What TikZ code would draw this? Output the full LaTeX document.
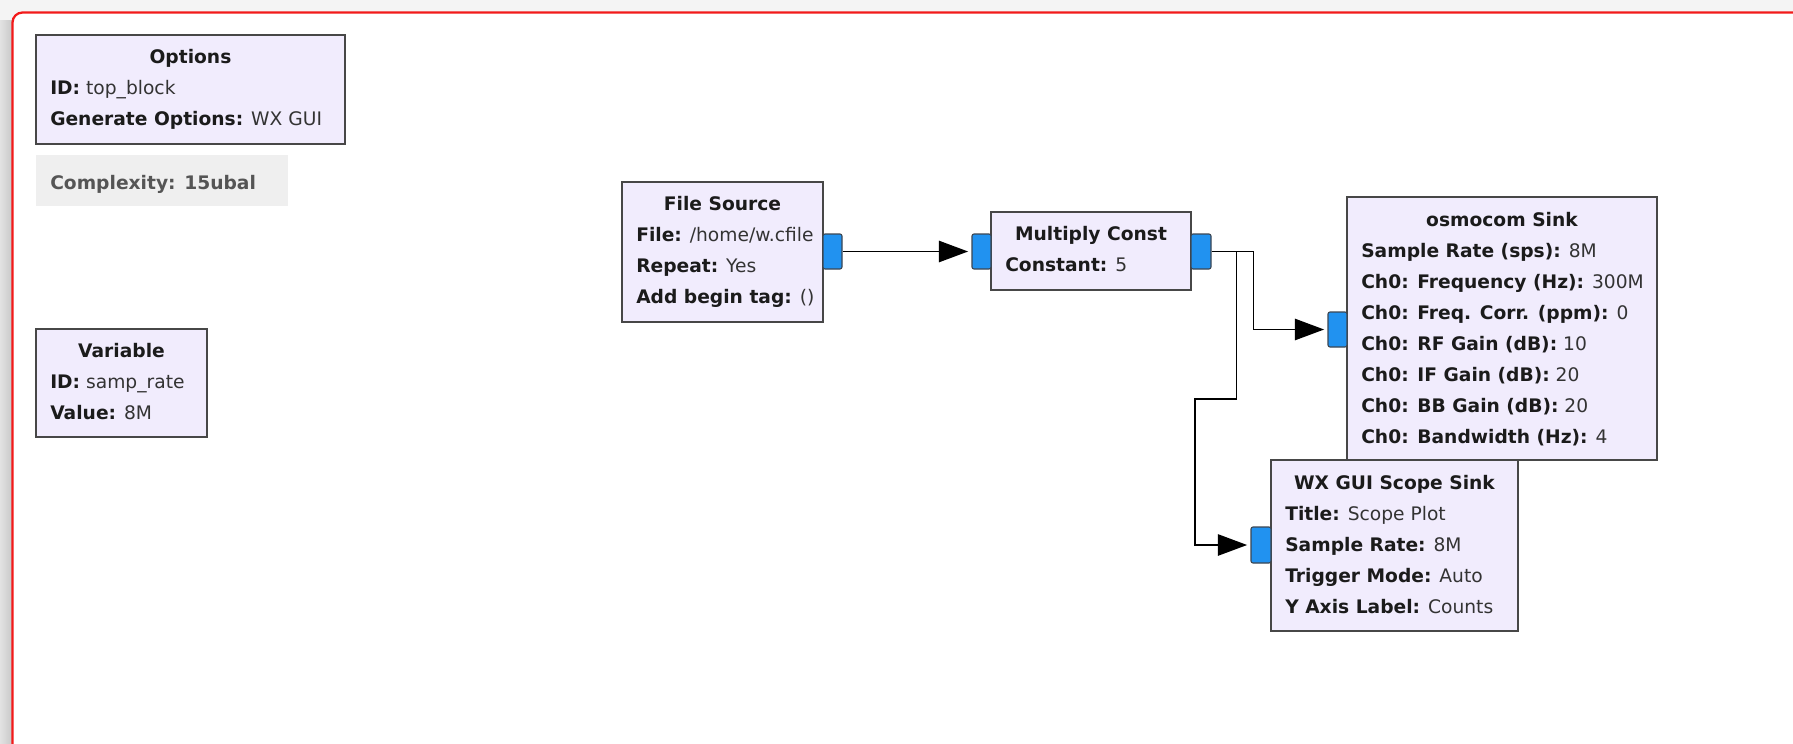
\documentclass[tikz,border=0pt]{standalone}
\usepackage{fontspec}
\setmainfont{DejaVu Sans}
\usetikzlibrary{arrows.meta,fit}

\definecolor{blockfill}{HTML}{F1ECFD}
\definecolor{blockedge}{HTML}{474747}
\definecolor{portblue}{HTML}{2192F0}
\definecolor{portedge}{HTML}{3C4652}
\definecolor{framered}{HTML}{F21A1A}
\definecolor{outside}{HTML}{F4F4F4}
\definecolor{shadowdark}{HTML}{C9C9C9}
\definecolor{shadowlight}{HTML}{E2E2E2}
\definecolor{cplxfill}{HTML}{EFEFEF}
\definecolor{cplxtext}{HTML}{555555}
\definecolor{valtext}{HTML}{333333}
\definecolor{keytext}{HTML}{1B1B1B}

% one "key: value" parameter row of a block
\newcommand\param[2]{{\color{keytext}\bfseries #1:} {\color{valtext}#2}}

\begin{document}
\begin{tikzpicture}[
  x=0.75pt, y=-0.75pt,
  font=\fontsize{14}{17}\selectfont,
  blk/.style={draw=blockedge, fill=blockfill, line width=1.3pt, inner sep=0pt},
  port/.style={draw=portedge, fill=portblue, line width=0.8pt, rounded corners=1.5pt, inner sep=0pt},
  blktitle/.style={anchor=base, inner sep=0pt, text=keytext, font=\fontsize{14}{17}\selectfont\bfseries},
  prow/.style={anchor=base west, inner sep=0pt},
  wire/.style={line width=1.4pt, -{Triangle[length=22pt,width=16pt]}, shorten >=2.5pt},
]
\useasboundingbox (0,0) rectangle (1793,743);

% canvas, window shadow and red frame
\fill[outside] (0,0) rectangle (1793,743);
\shade[left color=shadowlight, right color=shadowdark] (0,20) rectangle (12,743);
\fill[white, rounded corners=7.5pt] (12.5,800) -- (12.5,12.5) -- (1850,12.5) -- (1850,800) -- cycle;
\draw[framered, line width=1.7pt, rounded corners=7.5pt] (12.5,800) -- (12.5,12.5) -- (1850,12.5);

% Options
\node[blk, fit={(36,35)(345,144)}] (opt) {};
\node[blktitle] (opt-t) at (190.5,63) {Options};
\node[prow] (opt-1) at (50,94) {\param{ID}{top\_block}};
\node[prow] (opt-2) at (50,125) {\param{Generate Options}{WX GUI}};

% Complexity
\node[fill=cplxfill, inner sep=0pt, fit={(36,155)(288,206)}] (cplx) {};
\node[prow, text=cplxtext, font=\fontsize{14}{17}\selectfont\bfseries] (cplx-t) at (50,189) {Complexity: 15ubal};

% Variable
\node[blk, fit={(36,329)(207,437)}] (var) {};
\node[blktitle] (var-t) at (121.5,357) {Variable};
\node[prow] (var-1) at (50,388) {\param{ID}{samp\_rate}};
\node[prow] (var-2) at (50,419) {\param{Value}{8M}};

% File Source
\node[blk, fit={(622,182)(823,322)}] (fs) {};
\node[blktitle] (fs-t) at (722.5,210) {File Source};
\node[prow] (fs-1) at (636,241) {\param{File}{/home/w.cfile}};
\node[prow] (fs-2) at (636,272) {\param{Repeat}{Yes}};
\node[prow] (fs-3) at (636,303) {\param{Add begin tag}{()}};
\node[port, fit={(823,234)(842,269)}] (fs-out) {};

% Multiply Const
\node[blk, fit={(991,212)(1191,290)}] (mc) {};
\node[blktitle] (mc-t) at (1091,240) {Multiply Const};
\node[prow] (mc-1) at (1005,271) {\param{Constant}{5}};
\node[port, fit={(972,234)(991,269)}] (mc-in) {};
\node[port, fit={(1191,234)(1211,269)}] (mc-out) {};

% osmocom Sink
\node[blk, fit={(1347,197)(1657,460)}] (os) {};
\node[blktitle] (os-t) at (1502,226) {osmocom Sink};
\node[prow] (os-1) at (1361,257) {\param{Sample Rate (sps)}{8M}};
\node[prow] (os-2) at (1361,288) {\param{Ch0: Frequency (Hz)}{300M}};
\node[prow] (os-3) at (1361,319) {\param{Ch0: Freq. Corr. (ppm)}{0}};
\node[prow] (os-4) at (1361,350) {\param{Ch0: RF Gain (dB)}{10}};
\node[prow] (os-5) at (1361,381) {\param{Ch0: IF Gain (dB)}{20}};
\node[prow] (os-6) at (1361,412) {\param{Ch0: BB Gain (dB)}{20}};
\node[prow] (os-7) at (1361,443) {\param{Ch0: Bandwidth (Hz)}{4}};
\node[port, fit={(1328,312)(1347,347)}] (os-in) {};

% WX GUI Scope Sink
\node[blk, fit={(1271,460)(1518,631)}] (sc) {};
\node[blktitle] (sc-t) at (1394.5,489) {WX GUI Scope Sink};
\node[prow] (sc-1) at (1285,520) {\param{Title}{Scope Plot}};
\node[prow] (sc-2) at (1285,551) {\param{Sample Rate}{8M}};
\node[prow] (sc-3) at (1285,582) {\param{Trigger Mode}{Auto}};
\node[prow] (sc-4) at (1285,613) {\param{Y Axis Label}{Counts}};
\node[port, fit={(1251,527)(1271,563)}] (sc-in) {};

% connections
\coordinate (jog) at (1195,399);
\draw[wire] (fs-out.east) -- (mc-in.west);
\draw[wire] (mc-out.east) -- ++(42,0) |- (os-in.west);
\draw[wire] (mc-out.east) -- ++(25,0) |- (jog) |- (sc-in.west);
\end{tikzpicture}
\end{document}
